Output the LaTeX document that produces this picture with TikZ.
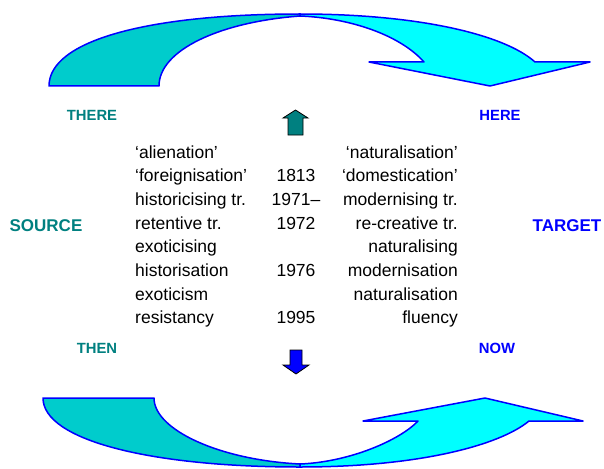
\documentclass[tikz,border=0pt]{standalone}
\usepackage{fontspec}
\setmainfont{Liberation Sans}
\definecolor{arcdark}{HTML}{00CCCC}
\definecolor{arclight}{HTML}{00FFFF}
\definecolor{srcteal}{HTML}{008080}
\definecolor{tgtblue}{HTML}{0000FF}
\tikzset{
  arcband/.style={draw=tgtblue,line width=1.5pt,line join=round},
  pole/.style={font=\fontsize{14.8}{16}\selectfont\bfseries,inner sep=0pt},
  side/.style={font=\fontsize{17}{19}\selectfont\bfseries,inner sep=0pt},
  term/.style={font=\fontsize{17.5}{21}\selectfont,inner sep=0pt},
  pointer/.style={draw=black,line width=0.8pt,line join=miter}
}
\begin{document}
\begin{tikzpicture}[x=1pt,y=-1pt]
\useasboundingbox (0,0) rectangle (604,468);

% Top arc (there -> here)
\draw[arcband,fill=arcdark] (49,86) .. controls (49,40) and (150,14) .. (300,14)
  -- (300,16) .. controls (220,22) and (159,50) .. (159,86) -- cycle;
\draw[arcband,fill=arclight] (300,14) .. controls (420,14) and (505,35) .. (535,62)
  -- (590,62) -- (490,86) -- (369,62) -- (424,62)
  .. controls (400,35) and (350,18) .. (300,16) -- cycle;

% Bottom arc (then -> now)
\draw[arcband,fill=arcdark] (43,398) .. controls (43,440) and (150,467) .. (300,467)
  -- (300,464) .. controls (220,460) and (154,430) .. (154,398) -- cycle;
\draw[arcband,fill=arclight] (300,467) .. controls (420,467) and (500,445) .. (529,421)
  -- (583,421) -- (485,398) -- (363,421) -- (418,421)
  .. controls (400,440) and (350,462) .. (300,464) -- cycle;

% Small pointers
\draw[pointer,fill=srcteal] (288,135) -- (288,118) -- (283,118) -- (295.5,110)
  -- (308,118) -- (303,118) -- (303,135) -- cycle;
\draw[pointer,fill=tgtblue] (290,350) -- (302,350) -- (302,365) -- (309,365)
  -- (296,374) -- (283,365) -- (290,365) -- cycle;

% Poles
\node[pole,srcteal] (there) at (92,115) {THERE};
\node[pole,tgtblue] (here) at (500,115) {HERE};
\node[pole,srcteal] (then) at (97,348) {THEN};
\node[pole,tgtblue] (now) at (497,348) {NOW};
\node[side,srcteal] (source) at (46,226) {SOURCE};
\node[side,tgtblue] (target) at (567,226) {TARGET};

% Terms and years
\foreach \lft/\yr/\rgt [count=\i from 0] in {
    ‘alienation’/{}/‘naturalisation’,
    ‘foreignisation’/1813/‘domestication’,
    historicising tr./1971--/modernising tr.,
    retentive tr./1972/re-creative tr.,
    exoticising/{}/naturalising,
    historisation/1976/modernisation,
    exoticism/{}/naturalisation,
    resistancy/1995/fluency}{
  \pgfmathsetmacro\ybase{158+23.7*\i}
  \node[term,anchor=base west] (src\i) at (135,\ybase) {\lft};
  \node[term,anchor=base] (yr\i) at (296,\ybase) {\yr};
  \node[term,anchor=base east] (tgt\i) at (458,\ybase) {\rgt};
}
\end{tikzpicture}
\end{document}
